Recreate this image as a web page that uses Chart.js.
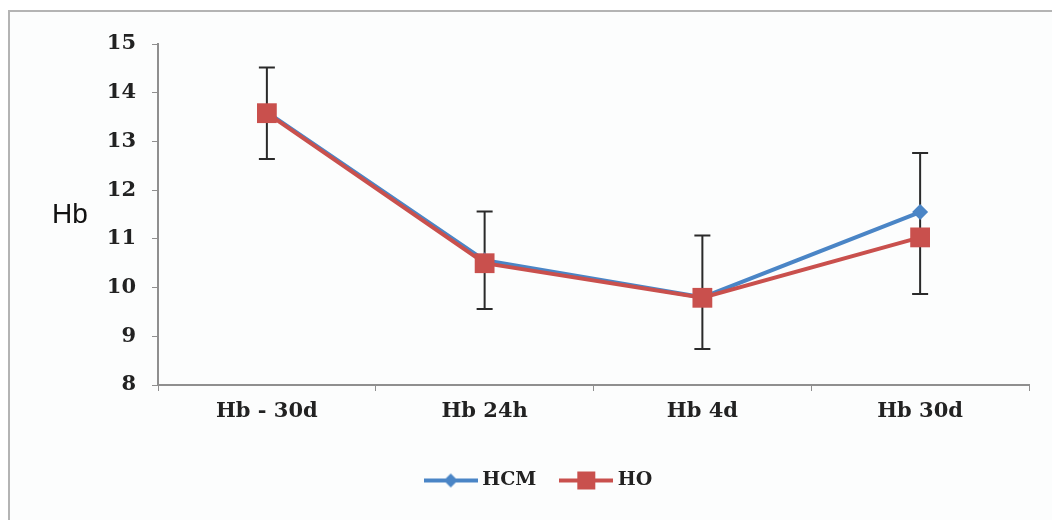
<!DOCTYPE html>
<html>
<head>
<meta charset="utf-8">
<script src="https://cdn.jsdelivr.net/npm/chart.js@4"></script>
<style>
  body { margin: 0; background: #fff; }
  #wrap { position: relative; width: 1052px; height: 520px; overflow: hidden; }
  #frame { position: absolute; left: 8px; top: 10px; width: 1100px; height: 600px;
           border-top: 2px solid #b4b4b4; border-left: 2px solid #b4b4b4; background: #fcfdfd; }
  #myChart { position: absolute; left: 0; top: 0; }
</style>
</head>
<body>
<div id="wrap">
  <div id="frame"></div>
  <canvas id="myChart" width="1052" height="520"></canvas>
</div>
<script>
// Dados
const categories = ['Hb - 30d', 'Hb 24h', 'Hb 4d', 'Hb 30d'];
const hcmValues = [13.6, 10.56, 9.8, 11.55];
const hoValues = [13.58, 10.5, 9.79, 11.03];
const errUpper = [14.52, 11.56, 11.07, 12.76]; // topo das barras de erro
const errLower = [12.64, 9.56, 8.74, 9.87];    // base das barras de erro
const yTicks = [8, 9, 10, 11, 12, 13, 14, 15];

const BLUE = '#4a85c6';
const RED = '#c9504d';
const TICK_FONT = { family: 'DejaVu Serif', size: 21, weight: 'bold' };
const LEGEND_FONT = { family: 'DejaVu Serif', size: 19, weight: 'bold' };

// Ícone da legenda: linha com marcador
function legendIcon(color, shape) {
    const c = document.createElement('canvas');
    c.width = 54; c.height = 22;
    const g = c.getContext('2d');
    g.strokeStyle = color;
    g.lineWidth = 4;
    g.beginPath(); g.moveTo(0, 11); g.lineTo(54, 11); g.stroke();
    g.fillStyle = color;
    if (shape === 'diamond') {
        g.beginPath(); g.moveTo(27, 4); g.lineTo(34, 11); g.lineTo(27, 18); g.lineTo(20, 11); g.closePath(); g.fill();
    } else {
        g.fillRect(18, 2, 18, 18);
    }
    return c;
}

// Plugin: barras de erro e título do eixo Y
const errorBars = {
    id: 'errorBars',
    beforeDatasetsDraw(chart) {
        const { ctx, scales: { x, y } } = chart;
        ctx.save();
        ctx.strokeStyle = '#2a2a2a';
        ctx.lineWidth = 2;
        categories.forEach((cat, i) => {
            const px = x.getPixelForValue(i);
            const top = y.getPixelForValue(errUpper[i]);
            const bot = y.getPixelForValue(errLower[i]);
            ctx.beginPath();
            ctx.moveTo(px, top); ctx.lineTo(px, bot);
            ctx.moveTo(px - 8, top); ctx.lineTo(px + 8, top);
            ctx.moveTo(px - 8, bot); ctx.lineTo(px + 8, bot);
            ctx.stroke();
        });
        ctx.restore();
    },
    afterDraw(chart) {
        const { ctx, chartArea } = chart;
        ctx.save();
        ctx.fillStyle = '#111';
        ctx.font = '28px "Liberation Sans"';
        ctx.textAlign = 'left';
        ctx.textBaseline = 'middle';
        ctx.fillText('Hb', 52, (chartArea.top + chartArea.bottom) / 2 + 1);
        ctx.restore();
    }
};

const ctx = document.getElementById('myChart').getContext('2d');
new Chart(ctx, {
    type: 'line',
    data: {
        labels: categories,
        datasets: [
            {
                label: 'HCM',
                data: hcmValues,
                borderColor: BLUE,
                backgroundColor: BLUE,
                borderWidth: 4,
                pointStyle: 'rectRot',
                pointRadius: 8,
                pointBorderWidth: 0,
                order: 1
            },
            {
                label: 'HO',
                data: hoValues,
                borderColor: RED,
                backgroundColor: RED,
                borderWidth: 4,
                pointStyle: 'rect',
                pointRadius: 14,
                pointBorderWidth: 0,
                order: 0
            }
        ]
    },
    options: {
        responsive: false,
        animation: false,
        layout: { padding: { top: 44, right: 23, left: 52, bottom: 20 } },
        scales: {
            x: {
                offset: true,
                afterFit: s => { s.height = 58; },
                grid: { offset: true, drawOnChartArea: false, color: '#8f8f8f', tickLength: 6 },
                border: { color: '#8f8f8f', width: 2 },
                ticks: { color: '#222', font: TICK_FONT, padding: 8 }
            },
            y: {
                min: 8,
                max: 15,
                afterFit: s => { s.width = 106; },
                afterBuildTicks: s => { s.ticks = yTicks.map(v => ({ value: v })); },
                grid: { drawOnChartArea: false, color: '#8f8f8f', tickLength: 6 },
                border: { color: '#8f8f8f', width: 2 },
                ticks: { color: '#222', font: TICK_FONT, padding: 16 }
            }
        },
        plugins: {
            tooltip: { enabled: false },
            legend: {
                position: 'bottom',
                padding: 18,
                labels: {
                    usePointStyle: true,
                    pointStyleWidth: 44,
                    color: '#222',
                    font: LEGEND_FONT,
                    padding: 28,
                    sort: (a, b) => a.datasetIndex - b.datasetIndex,
                    generateLabels: chart => {
                        const items = Chart.defaults.plugins.legend.labels.generateLabels(chart);
                        items.forEach(it => {
                            it.pointStyle = it.datasetIndex === 0 ? legendIcon(BLUE, 'diamond') : legendIcon(RED, 'square');
                        });
                        return items;
                    }
                }
            }
        }
    },
    plugins: [errorBars]
});
</script>
</body>
</html>
